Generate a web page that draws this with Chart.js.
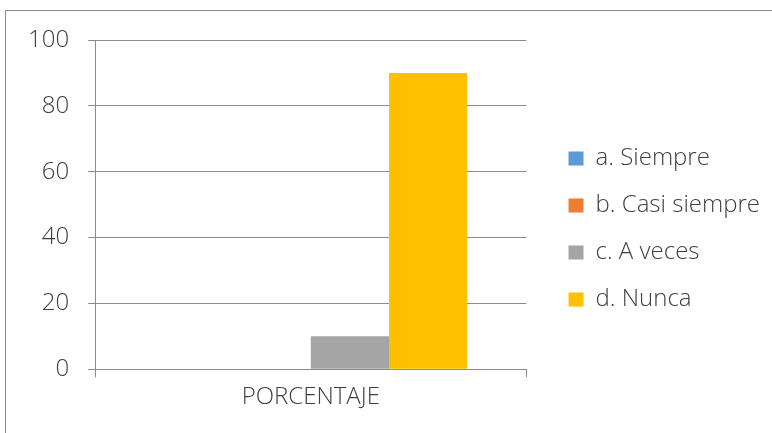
<!DOCTYPE html>
<html>
<head>
<meta charset="utf-8">
<script src="https://cdn.jsdelivr.net/npm/chart.js@4/dist/chart.umd.min.js"></script>
<style>
  body { margin: 0; background: #fff; }
  #wrap { position: relative; width: 772px; height: 433px; overflow: hidden; }
  #frame { position: absolute; left: 5px; top: 10px; width: 900px; height: 600px; border: 1px solid #8c8c8c; }
  #box { position: absolute; left: 0; top: 0; width: 772px; height: 433px; }
</style>
</head>
<body>
<div id="wrap">
  <div id="frame"></div>
  <div id="box"><canvas id="chart"></canvas></div>
</div>
<script>
const categories = ['PORCENTAJE'];
const seriesNames = ['a. Siempre', 'b. Casi siempre', 'c. A veces', 'd. Nunca'];
const seriesValues = [[0], [0], [10], [90]];
const seriesColors = ['#5b9bd5', '#ed7d31', '#a5a5a5', '#ffc000'];
const yTicks = [0, 20, 40, 60, 80, 100];

const font = { family: "'Open Sans', sans-serif", size: 24, weight: 300 };
const textColor = '#404040';
const lineColor = '#8c8c8c';

new Chart(document.getElementById('chart'), {
    type: 'bar',
    data: {
        labels: categories,
        datasets: seriesNames.map((name, i) => ({
            label: name,
            data: seriesValues[i],
            backgroundColor: seriesColors[i],
            barPercentage: 1,
            categoryPercentage: 0.725
        }))
    },
    options: {
        responsive: true,
        maintainAspectRatio: false,
        animation: false,
        layout: { padding: { left: 9, top: 40, bottom: 15, right: 2 } },
        plugins: {
            tooltip: { enabled: false },
            legend: {
                position: 'right',
                maxWidth: 300,
                labels: {
                    font: font,
                    color: textColor,
                    boxWidth: 15,
                    boxHeight: 14,
                    padding: 23
                }
            }
        },
        scales: {
            x: {
                grid: { offset: true, drawOnChartArea: false, color: lineColor, tickLength: 8 },
                border: { color: lineColor },
                ticks: { font: font, color: textColor, padding: 6 }
            },
            y: {
                min: 0,
                max: 100,
                afterBuildTicks: axis => { axis.ticks = yTicks.map(v => ({ value: v })); },
                grid: { color: lineColor, tickLength: 7 },
                border: { color: lineColor },
                ticks: { font: font, color: textColor, padding: 19 }
            },
            filler: {
                position: 'right',
                display: true,
                grid: { display: false },
                border: { display: false },
                ticks: { display: false },
                afterFit: axis => { axis.width = 19; }
            }
        }
    }
});
</script>
</body>
</html>
